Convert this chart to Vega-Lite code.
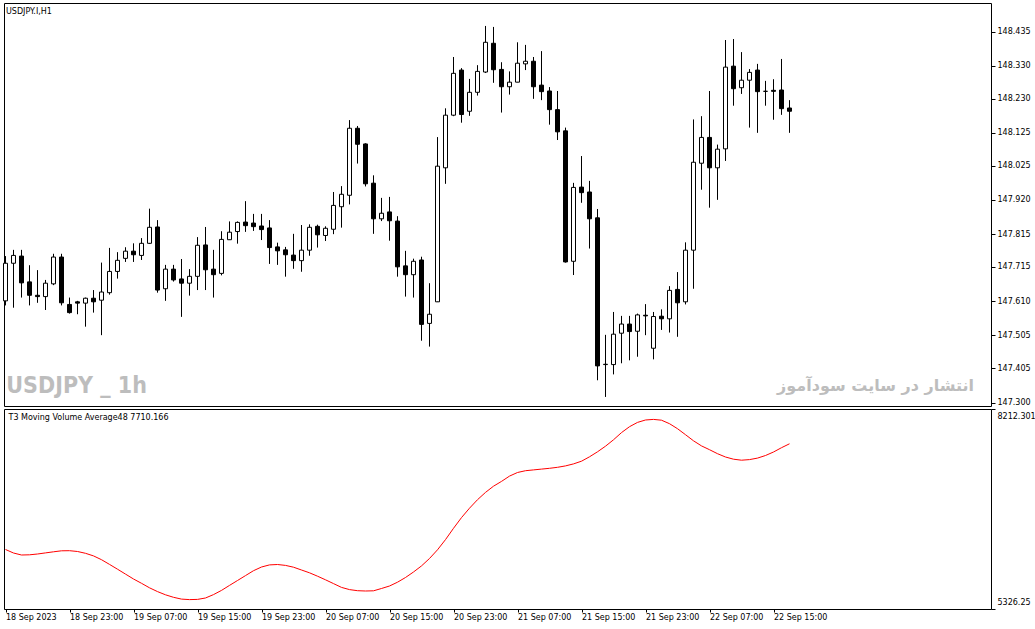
{
  "$schema": "https://vega.github.io/schema/vega-lite/v6.json",
  "description": "USDJPY H1 candlesticks with T3 moving volume average",
  "background": "white",
  "padding": {"left": 2, "top": 2, "right": 0, "bottom": 0},
  "spacing": 0,
  "config": {
    "view": {"stroke": "black", "strokeWidth": 1},
    "axis": {"grid": false, "labelFont": "DejaVu Sans", "labelFontSize": 8, "labelColor": "black", "tickColor": "black", "domain": false, "title": null, "labelOverlap": false}
  },
  "datasets": {
    "bars": [
      {"t":"2023-09-18T15:00:00Z","o":147.611,"h":147.748,"l":147.597,"c":147.726,"v":6184.9},
      {"t":"2023-09-18T16:00:00Z","o":147.726,"h":147.767,"l":147.590,"c":147.750,"v":6134.3},
      {"t":"2023-09-18T17:00:00Z","o":147.748,"h":147.767,"l":147.621,"c":147.666,"v":6105.4},
      {"t":"2023-09-18T18:00:00Z","o":147.669,"h":147.720,"l":147.597,"c":147.628,"v":6108.4},
      {"t":"2023-09-18T19:00:00Z","o":147.628,"h":147.705,"l":147.605,"c":147.624,"v":6119.9},
      {"t":"2023-09-18T20:00:00Z","o":147.624,"h":147.675,"l":147.583,"c":147.665,"v":6135.8},
      {"t":"2023-09-18T21:00:00Z","o":147.663,"h":147.755,"l":147.659,"c":147.745,"v":6151.7},
      {"t":"2023-09-18T22:00:00Z","o":147.745,"h":147.755,"l":147.597,"c":147.605,"v":6166.1},
      {"t":"2023-09-18T23:00:00Z","o":147.600,"h":147.621,"l":147.572,"c":147.575,"v":6167.5},
      {"t":"2023-09-19T00:00:00Z","o":147.608,"h":147.611,"l":147.570,"c":147.604,"v":6156.0},
      {"t":"2023-09-19T01:00:00Z","o":147.604,"h":147.621,"l":147.532,"c":147.619,"v":6130.0},
      {"t":"2023-09-19T02:00:00Z","o":147.619,"h":147.644,"l":147.575,"c":147.608,"v":6092.5},
      {"t":"2023-09-19T03:00:00Z","o":147.613,"h":147.728,"l":147.506,"c":147.638,"v":6037.7},
      {"t":"2023-09-19T04:00:00Z","o":147.636,"h":147.773,"l":147.630,"c":147.701,"v":5969.8},
      {"t":"2023-09-19T05:00:00Z","o":147.701,"h":147.760,"l":147.679,"c":147.735,"v":5900.6},
      {"t":"2023-09-19T06:00:00Z","o":147.741,"h":147.775,"l":147.730,"c":147.763,"v":5829.9},
      {"t":"2023-09-19T07:00:00Z","o":147.763,"h":147.787,"l":147.730,"c":147.752,"v":5759.2},
      {"t":"2023-09-19T08:00:00Z","o":147.750,"h":147.803,"l":147.736,"c":147.787,"v":5697.1},
      {"t":"2023-09-19T09:00:00Z","o":147.787,"h":147.893,"l":147.785,"c":147.836,"v":5632.2},
      {"t":"2023-09-19T10:00:00Z","o":147.837,"h":147.858,"l":147.636,"c":147.644,"v":5577.3},
      {"t":"2023-09-19T11:00:00Z","o":147.648,"h":147.721,"l":147.611,"c":147.708,"v":5531.2},
      {"t":"2023-09-19T12:00:00Z","o":147.708,"h":147.721,"l":147.670,"c":147.675,"v":5495.1},
      {"t":"2023-09-19T13:00:00Z","o":147.678,"h":147.739,"l":147.562,"c":147.665,"v":5469.1},
      {"t":"2023-09-19T14:00:00Z","o":147.665,"h":147.708,"l":147.627,"c":147.686,"v":5461.9},
      {"t":"2023-09-19T15:00:00Z","o":147.686,"h":147.806,"l":147.644,"c":147.781,"v":5464.8},
      {"t":"2023-09-19T16:00:00Z","o":147.782,"h":147.837,"l":147.644,"c":147.706,"v":5485.0},
      {"t":"2023-09-19T17:00:00Z","o":147.708,"h":147.767,"l":147.621,"c":147.691,"v":5534.0},
      {"t":"2023-09-19T18:00:00Z","o":147.695,"h":147.824,"l":147.689,"c":147.799,"v":5594.7},
      {"t":"2023-09-19T19:00:00Z","o":147.798,"h":147.854,"l":147.798,"c":147.821,"v":5666.8},
      {"t":"2023-09-19T20:00:00Z","o":147.823,"h":147.854,"l":147.786,"c":147.851,"v":5737.5},
      {"t":"2023-09-19T21:00:00Z","o":147.852,"h":147.916,"l":147.822,"c":147.841,"v":5808.2},
      {"t":"2023-09-19T22:00:00Z","o":147.849,"h":147.877,"l":147.825,"c":147.838,"v":5878.9},
      {"t":"2023-09-19T23:00:00Z","o":147.840,"h":147.877,"l":147.797,"c":147.829,"v":5932.3},
      {"t":"2023-09-20T00:00:00Z","o":147.834,"h":147.858,"l":147.724,"c":147.774,"v":5962.6},
      {"t":"2023-09-20T01:00:00Z","o":147.776,"h":147.789,"l":147.721,"c":147.764,"v":5968.4},
      {"t":"2023-09-20T02:00:00Z","o":147.767,"h":147.776,"l":147.685,"c":147.752,"v":5955.4},
      {"t":"2023-09-20T03:00:00Z","o":147.751,"h":147.816,"l":147.709,"c":147.734,"v":5929.4},
      {"t":"2023-09-20T04:00:00Z","o":147.734,"h":147.843,"l":147.700,"c":147.766,"v":5889.0},
      {"t":"2023-09-20T05:00:00Z","o":147.766,"h":147.845,"l":147.749,"c":147.836,"v":5848.6},
      {"t":"2023-09-20T06:00:00Z","o":147.839,"h":147.844,"l":147.774,"c":147.813,"v":5799.6},
      {"t":"2023-09-20T07:00:00Z","o":147.811,"h":147.839,"l":147.794,"c":147.833,"v":5747.6},
      {"t":"2023-09-20T08:00:00Z","o":147.830,"h":147.944,"l":147.815,"c":147.903,"v":5692.8},
      {"t":"2023-09-20T09:00:00Z","o":147.899,"h":147.962,"l":147.835,"c":147.937,"v":5637.9},
      {"t":"2023-09-20T10:00:00Z","o":147.934,"h":148.164,"l":147.906,"c":148.139,"v":5606.2},
      {"t":"2023-09-20T11:00:00Z","o":148.139,"h":148.146,"l":148.031,"c":148.090,"v":5590.3},
      {"t":"2023-09-20T12:00:00Z","o":148.091,"h":148.093,"l":147.961,"c":147.969,"v":5586.0},
      {"t":"2023-09-20T13:00:00Z","o":147.971,"h":147.995,"l":147.816,"c":147.862,"v":5588.9},
      {"t":"2023-09-20T14:00:00Z","o":147.862,"h":147.926,"l":147.855,"c":147.879,"v":5622.1},
      {"t":"2023-09-20T15:00:00Z","o":147.883,"h":147.929,"l":147.795,"c":147.856,"v":5658.1},
      {"t":"2023-09-20T16:00:00Z","o":147.855,"h":147.870,"l":147.685,"c":147.715,"v":5713.0},
      {"t":"2023-09-20T17:00:00Z","o":147.718,"h":147.764,"l":147.624,"c":147.691,"v":5780.8},
      {"t":"2023-09-20T18:00:00Z","o":147.691,"h":147.740,"l":147.621,"c":147.732,"v":5860.2},
      {"t":"2023-09-20T19:00:00Z","o":147.736,"h":147.746,"l":147.489,"c":147.539,"v":5948.2},
      {"t":"2023-09-20T20:00:00Z","o":147.542,"h":147.665,"l":147.471,"c":147.570,"v":6055.0},
      {"t":"2023-09-20T21:00:00Z","o":147.608,"h":148.112,"l":147.608,"c":148.023,"v":6180.5},
      {"t":"2023-09-20T22:00:00Z","o":148.018,"h":148.200,"l":147.969,"c":148.179,"v":6327.7},
      {"t":"2023-09-20T23:00:00Z","o":148.179,"h":148.357,"l":148.176,"c":148.307,"v":6490.8},
      {"t":"2023-09-21T00:00:00Z","o":148.317,"h":148.323,"l":148.156,"c":148.181,"v":6645.2},
      {"t":"2023-09-21T01:00:00Z","o":148.191,"h":148.290,"l":148.177,"c":148.249,"v":6780.8},
      {"t":"2023-09-21T02:00:00Z","o":148.249,"h":148.332,"l":148.239,"c":148.313,"v":6903.5},
      {"t":"2023-09-21T03:00:00Z","o":148.311,"h":148.452,"l":148.308,"c":148.402,"v":7008.8},
      {"t":"2023-09-21T04:00:00Z","o":148.399,"h":148.449,"l":148.278,"c":148.318,"v":7098.3},
      {"t":"2023-09-21T05:00:00Z","o":148.319,"h":148.341,"l":148.187,"c":148.266,"v":7167.5},
      {"t":"2023-09-21T06:00:00Z","o":148.266,"h":148.313,"l":148.242,"c":148.280,"v":7244.0},
      {"t":"2023-09-21T07:00:00Z","o":148.280,"h":148.402,"l":148.280,"c":148.338,"v":7296.0},
      {"t":"2023-09-21T08:00:00Z","o":148.336,"h":148.394,"l":148.317,"c":148.344,"v":7321.9},
      {"t":"2023-09-21T09:00:00Z","o":148.344,"h":148.357,"l":148.229,"c":148.266,"v":7333.5},
      {"t":"2023-09-21T10:00:00Z","o":148.271,"h":148.375,"l":148.225,"c":148.251,"v":7345.1},
      {"t":"2023-09-21T11:00:00Z","o":148.253,"h":148.265,"l":148.150,"c":148.196,"v":7356.6},
      {"t":"2023-09-21T12:00:00Z","o":148.196,"h":148.253,"l":148.103,"c":148.128,"v":7371.0},
      {"t":"2023-09-21T13:00:00Z","o":148.131,"h":148.141,"l":147.728,"c":147.730,"v":7391.3},
      {"t":"2023-09-21T14:00:00Z","o":147.732,"h":147.972,"l":147.690,"c":147.958,"v":7420.1},
      {"t":"2023-09-21T15:00:00Z","o":147.959,"h":148.054,"l":147.911,"c":147.942,"v":7459.0},
      {"t":"2023-09-21T16:00:00Z","o":147.944,"h":147.978,"l":147.771,"c":147.862,"v":7522.5},
      {"t":"2023-09-21T17:00:00Z","o":147.865,"h":147.892,"l":147.368,"c":147.412,"v":7594.7},
      {"t":"2023-09-21T18:00:00Z","o":147.416,"h":147.507,"l":147.317,"c":147.417,"v":7675.5},
      {"t":"2023-09-21T19:00:00Z","o":147.416,"h":147.577,"l":147.386,"c":147.509,"v":7767.9},
      {"t":"2023-09-21T20:00:00Z","o":147.512,"h":147.565,"l":147.420,"c":147.540,"v":7871.8},
      {"t":"2023-09-21T21:00:00Z","o":147.540,"h":147.565,"l":147.429,"c":147.517,"v":7956.9},
      {"t":"2023-09-21T22:00:00Z","o":147.518,"h":147.572,"l":147.440,"c":147.568,"v":8019.0},
      {"t":"2023-09-21T23:00:00Z","o":147.567,"h":147.601,"l":147.506,"c":147.565,"v":8053.6},
      {"t":"2023-09-22T00:00:00Z","o":147.466,"h":147.577,"l":147.432,"c":147.563,"v":8062.2},
      {"t":"2023-09-22T01:00:00Z","o":147.564,"h":147.585,"l":147.522,"c":147.556,"v":8050.7},
      {"t":"2023-09-22T02:00:00Z","o":147.556,"h":147.656,"l":147.514,"c":147.643,"v":8000.2},
      {"t":"2023-09-22T03:00:00Z","o":147.646,"h":147.699,"l":147.501,"c":147.605,"v":7928.1},
      {"t":"2023-09-22T04:00:00Z","o":147.608,"h":147.790,"l":147.600,"c":147.766,"v":7841.5},
      {"t":"2023-09-22T05:00:00Z","o":147.766,"h":148.166,"l":147.648,"c":148.035,"v":7753.4},
      {"t":"2023-09-22T06:00:00Z","o":148.032,"h":148.176,"l":147.951,"c":148.111,"v":7679.8},
      {"t":"2023-09-22T07:00:00Z","o":148.111,"h":148.253,"l":147.896,"c":148.018,"v":7625.0},
      {"t":"2023-09-22T08:00:00Z","o":148.018,"h":148.089,"l":147.920,"c":148.075,"v":7567.3},
      {"t":"2023-09-22T09:00:00Z","o":148.076,"h":148.409,"l":148.039,"c":148.326,"v":7519.6},
      {"t":"2023-09-22T10:00:00Z","o":148.329,"h":148.412,"l":148.208,"c":148.260,"v":7487.9},
      {"t":"2023-09-22T11:00:00Z","o":148.263,"h":148.372,"l":148.244,"c":148.286,"v":7473.5},
      {"t":"2023-09-22T12:00:00Z","o":148.286,"h":148.320,"l":148.141,"c":148.310,"v":7482.1},
      {"t":"2023-09-22T13:00:00Z","o":148.317,"h":148.336,"l":148.125,"c":148.251,"v":7503.8},
      {"t":"2023-09-22T14:00:00Z","o":148.252,"h":148.284,"l":148.208,"c":148.252,"v":7541.3},
      {"t":"2023-09-22T15:00:00Z","o":148.255,"h":148.289,"l":148.165,"c":148.252,"v":7591.8},
      {"t":"2023-09-22T16:00:00Z","o":148.256,"h":148.351,"l":148.180,"c":148.199,"v":7653.9},
      {"t":"2023-09-22T17:00:00Z","o":148.201,"h":148.225,"l":148.125,"c":148.191,"v":7710.2}
    ]
  },
  "vconcat": [
    {
      "width": 987,
      "height": 403,
      "title": {"text": "USDJPY.I,H1", "anchor": "start", "offset": -13, "dx": 3, "font": "DejaVu Sans", "fontSize": 8, "fontWeight": "normal", "color": "black"},
      "layer": [
        {
          "data": {"name": "bars"},
          "mark": {"type": "rule", "color": "black", "strokeWidth": 1},
          "encoding": {
            "x": {"field": "t", "type": "temporal", "scale": {"type": "utc", "padding": 0, "domain": [{"year": 2023, "month": 9, "date": 18, "hours": 14, "minutes": 48, "seconds": 45, "utc": true}, {"year": 2023, "month": 9, "date": 23, "hours": 18, "minutes": 11, "seconds": 15, "utc": true}]}, "axis": null},
            "y": {"field": "l", "type": "quantitative", "scale": {"domain": [147.2893, 148.5222], "nice": false, "zero": false, "padding": 0},
              "axis": {"orient": "right", "values": [147.300, 147.405, 147.505, 147.610, 147.715, 147.815, 147.920, 148.025, 148.125, 148.230, 148.330, 148.435], "tickCount": 30, "format": ".3f", "tickSize": 4, "labelPadding": 2, "labelOverlap": false, "labelBound": false, "labelFlush": false}},
            "y2": {"field": "h"}
          }
        },
        {
          "data": {"name": "bars"},
          "mark": {"type": "bar", "size": 4, "stroke": "black", "strokeWidth": 1},
          "encoding": {
            "x": {"field": "t", "type": "temporal"},
            "y": {"field": "o", "type": "quantitative",
              "axis": {"orient": "right", "values": [147.300, 147.405, 147.505, 147.610, 147.715, 147.815, 147.920, 148.025, 148.125, 148.230, 148.330, 148.435], "tickCount": 30, "format": ".3f", "tickSize": 4, "labelPadding": 2, "labelOverlap": false, "labelBound": false, "labelFlush": false}},
            "y2": {"field": "c"},
            "fill": {"condition": {"test": "datum.c < datum.o", "value": "black"}, "value": "white"}
          }
        },
        {
          "data": {"values": [{"label": "USDJPY _ 1h"}]},
          "mark": {"type": "text", "align": "left", "baseline": "middle", "font": "DejaVu Sans Condensed, Liberation Sans", "fontSize": 23, "fontWeight": "bold", "color": "#bdbdbd"},
          "encoding": {
            "x": {"datum": {"year": 2023, "month": 9, "date": 18, "hours": 15, "minutes": 6, "seconds": 0, "utc": true}, "type": "temporal"},
            "y": {"datum": 147.3505, "type": "quantitative"},
            "text": {"field": "label"}
          }
        },
        {
          "data": {"values": [{"label": "انتشار در سایت سودآموز"}]},
          "mark": {"type": "text", "align": "right", "baseline": "middle", "font": "DejaVu Sans", "fontSize": 16, "fontWeight": "bold", "color": "#bdbdbd"},
          "encoding": {
            "x": {"datum": {"year": 2023, "month": 9, "date": 23, "hours": 16, "minutes": 3, "seconds": 45, "utc": true}, "type": "temporal"},
            "y": {"datum": 147.3505, "type": "quantitative"},
            "text": {"field": "label"}
          }
        }
      ]
    },
    {
      "width": 987,
      "height": 200,
      "title": {"text": "T3 Moving Volume Average48 7710.166", "anchor": "start", "offset": -13, "dx": 5, "font": "DejaVu Sans", "fontSize": 8, "fontWeight": "normal", "color": "black"},
      "data": {"name": "bars"},
      "mark": {"type": "line", "color": "red", "strokeWidth": 1},
      "encoding": {
        "x": {"field": "t", "type": "temporal",
          "scale": {"type": "utc", "padding": 0, "domain": [{"year": 2023, "month": 9, "date": 18, "hours": 14, "minutes": 48, "seconds": 45, "utc": true}, {"year": 2023, "month": 9, "date": 23, "hours": 18, "minutes": 11, "seconds": 15, "utc": true}]},
          "axis": {
            "orient": "bottom",
            "values": [
              {"year": 2023, "month": 9, "date": 18, "hours": 15, "utc": true},
              {"year": 2023, "month": 9, "date": 18, "hours": 23, "utc": true},
              {"year": 2023, "month": 9, "date": 19, "hours": 7, "utc": true},
              {"year": 2023, "month": 9, "date": 19, "hours": 15, "utc": true},
              {"year": 2023, "month": 9, "date": 19, "hours": 23, "utc": true},
              {"year": 2023, "month": 9, "date": 20, "hours": 7, "utc": true},
              {"year": 2023, "month": 9, "date": 20, "hours": 15, "utc": true},
              {"year": 2023, "month": 9, "date": 20, "hours": 23, "utc": true},
              {"year": 2023, "month": 9, "date": 21, "hours": 7, "utc": true},
              {"year": 2023, "month": 9, "date": 21, "hours": 15, "utc": true},
              {"year": 2023, "month": 9, "date": 21, "hours": 23, "utc": true},
              {"year": 2023, "month": 9, "date": 22, "hours": 7, "utc": true},
              {"year": 2023, "month": 9, "date": 22, "hours": 15, "utc": true}
            ],
            "tickCount": 30,
            "labelExpr": "utcFormat(datum.value, '%d %b %H:%M') == '18 Sep 15:00' ? '18 Sep 2023' : utcFormat(datum.value, '%d %b %H:%M')",
            "labelAlign": "left",
            "labelFlush": false,
            "labelOverlap": false,
            "labelBound": false,
            "tickSize": 3,
            "labelPadding": 1
          }
        },
        "y": {"field": "v", "type": "quantitative", "scale": {"domain": [5326.25, 8212.301], "nice": false, "zero": false},
          "axis": {"orient": "right", "values": [5326.25, 8212.301], "format": ".3~f", "labelFlush": true, "labelFlushOffset": -3, "labelOverlap": false, "tickSize": 4, "labelPadding": 2}}
      }
    }
  ]
}
